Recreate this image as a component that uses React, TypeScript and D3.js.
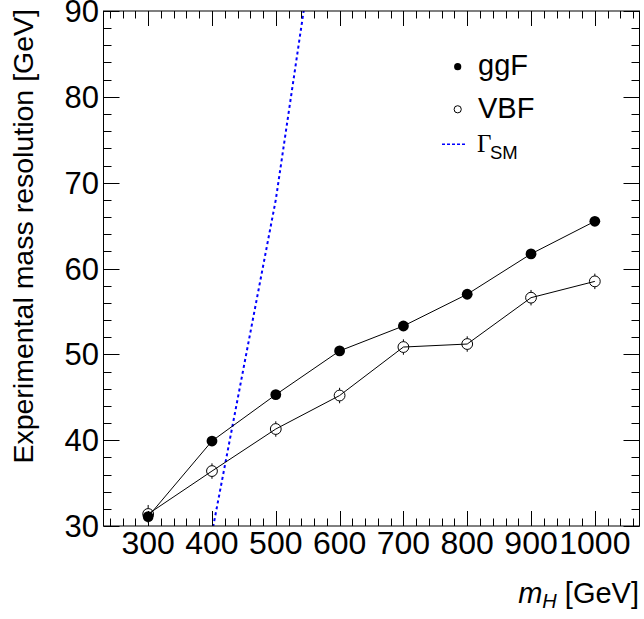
import React from 'react';
import * as d3 from 'd3';

const massPoints = [300, 400, 500, 600, 700, 800, 900, 1000];
const ggfRes = [31.1, 39.9, 45.3, 50.4, 53.3, 57.0, 61.7, 65.5];
const ggfErr = [0.5, 0.4, 0.4, 0.4, 0.4, 0.4, 0.4, 0.4];
const vbfRes = [31.4, 36.4, 41.3, 45.2, 50.85, 51.2, 56.6, 58.5];
const vbfErr = [1.05, 0.9, 0.9, 0.9, 0.9, 0.9, 0.9, 0.9];
const gammaMass = [400, 500, 550, 600];
const gammaWidth = [29.2, 68.0, 93.2, 123.0];
const xTickLabels = [300, 400, 500, 600, 700, 800, 900, 1000];
const yTickLabels = [30, 40, 50, 60, 70, 80, 90];

const W = 644;
const H = 619;
const L = 103.5, R = 639.5, T = 11, B = 526;
const FONT = '"Liberation Sans", Arial, Helvetica, sans-serif';
const FS = 29;
const XLAB = 32;
const YLAB = 31;

export default function App() {
  const x = d3.scaleLinear().domain([230, 1070]).range([L, R]);
  const y = d3.scaleLinear().domain([30, 90]).range([B, T]);

  const xMinor = d3.range(240, 1070, 20);
  const yMinor = d3.range(30, 90.01, 2);

  const line = d3.line<number>().x((_, i) => x(massPoints[i])).y((d) => y(d));
  const gLine = d3.line<number>().x((_, i) => x(gammaMass[i])).y((d) => y(d));

  const rMark = 5.4;

  const errSegs = (vals: number[], errs: number[]) =>
    vals.map((v, i) => {
      const cx = x(massPoints[i]);
      const cy = y(v);
      const up = y(v + errs[i]);
      const dn = y(v - errs[i]);
      const segs: any[] = [];
      if (cy - up > rMark)
        segs.push(<line key={'u' + i} x1={cx} x2={cx} y1={cy - rMark} y2={up} stroke="black" strokeWidth={1} />);
      if (dn - cy > rMark)
        segs.push(<line key={'d' + i} x1={cx} x2={cx} y1={cy + rMark} y2={dn} stroke="black" strokeWidth={1} />);
      return segs;
    });

  return (
    <svg width={W} height={H} style={{ position: 'fixed', left: 0, top: 0, background: 'white' }} fontFamily={FONT}>
      <rect x={0} y={0} width={W} height={H} fill="white" />
      <defs>
        <clipPath id="plotclip">
          <rect x={L} y={T} width={R - L} height={B - T} />
        </clipPath>
      </defs>

      {/* Gamma SM line */}
      <path
        d={gLine(gammaWidth) || ''}
        fill="none"
        stroke="#0000ff"
        strokeWidth={2}
        strokeDasharray="3,3"
        clipPath="url(#plotclip)"
      />

      {/* connecting lines */}
      <path d={line(ggfRes) || ''} fill="none" stroke="black" strokeWidth={1} />
      <path d={line(vbfRes) || ''} fill="none" stroke="black" strokeWidth={1} />

      {/* error bars */}
      {errSegs(vbfRes, vbfErr)}
      {errSegs(ggfRes, ggfErr)}

      {/* markers */}
      {vbfRes.map((v, i) => (
        <circle key={'v' + i} cx={x(massPoints[i])} cy={y(v)} r={rMark} fill="none" stroke="black" strokeWidth={1} />
      ))}
      {ggfRes.map((v, i) => (
        <circle key={'g' + i} cx={x(massPoints[i])} cy={y(v)} r={rMark} fill="black" />
      ))}

      {/* frame */}
      <rect x={L} y={T} width={R - L} height={B - T} fill="none" stroke="black" strokeWidth={1} />

      {/* x ticks */}
      {xMinor.map((v) => {
        const major = v % 100 === 0;
        const len = major ? 15 : 7.5;
        const px = Math.round(x(v)) + 0.5;
        return (
          <g key={'xt' + v}>
            <line x1={px} x2={px} y1={B} y2={B - len} stroke="black" strokeWidth={1} />
            <line x1={px} x2={px} y1={T} y2={T + len} stroke="black" strokeWidth={1} />
          </g>
        );
      })}
      {/* y ticks */}
      {yMinor.map((v) => {
        const major = Math.abs(v % 10) < 1e-6;
        const len = major ? 16 : 8;
        const py = Math.round(y(v)) + 0.5;
        return (
          <g key={'yt' + v}>
            <line x1={L} x2={L + len} y1={py} y2={py} stroke="black" strokeWidth={1} />
            <line x1={R} x2={R - len} y1={py} y2={py} stroke="black" strokeWidth={1} />
          </g>
        );
      })}

      {/* x tick labels */}
      {xTickLabels.map((v) => (
        <text key={'xl' + v} x={x(v)} y={554} textAnchor="middle" fontSize={XLAB} fill="black">
          {v}
        </text>
      ))}
      {/* y tick labels */}
      {yTickLabels.map((v) => (
        <text key={'yl' + v} x={99} y={y(v) + 11} textAnchor="end" fontSize={YLAB} fill="black">
          {v}
        </text>
      ))}

      {/* axis titles */}
      <text x={639} y={603} textAnchor="end" fontSize={FS} fill="black">
        <tspan fontStyle="italic">m</tspan>
        <tspan fontStyle="italic" fontSize={20} dy={5}>H</tspan>
        <tspan dy={-5}> [GeV]</tspan>
      </text>
      <text
        transform={`translate(33,9) rotate(-90)`}
        textAnchor="end"
        fontSize={28.5}
        fill="black"
      >
        Experimental mass resolution [GeV]
      </text>

      {/* legend */}
      <circle cx={457.7} cy={66.7} r={3.6} fill="black" />
      <text x={478} y={75} fontSize={FS} fill="black">ggF</text>
      <circle cx={457.7} cy={109.3} r={3.6} fill="none" stroke="black" strokeWidth={1} />
      <text x={478} y={118} fontSize={FS} fill="black">VBF</text>
      <line x1={442} x2={467} y1={144.3} y2={144.3} stroke="#0000ff" strokeWidth={1.5} strokeDasharray="3,2" />
      <text x={477} y={151.5} fontSize={25} fill="black" fontFamily={'"Liberation Serif", "Times New Roman", serif'}>Γ</text>
      <text x={490} y={158.5} fontSize={18.5} fill="black">SM</text>
    </svg>
  );
}
